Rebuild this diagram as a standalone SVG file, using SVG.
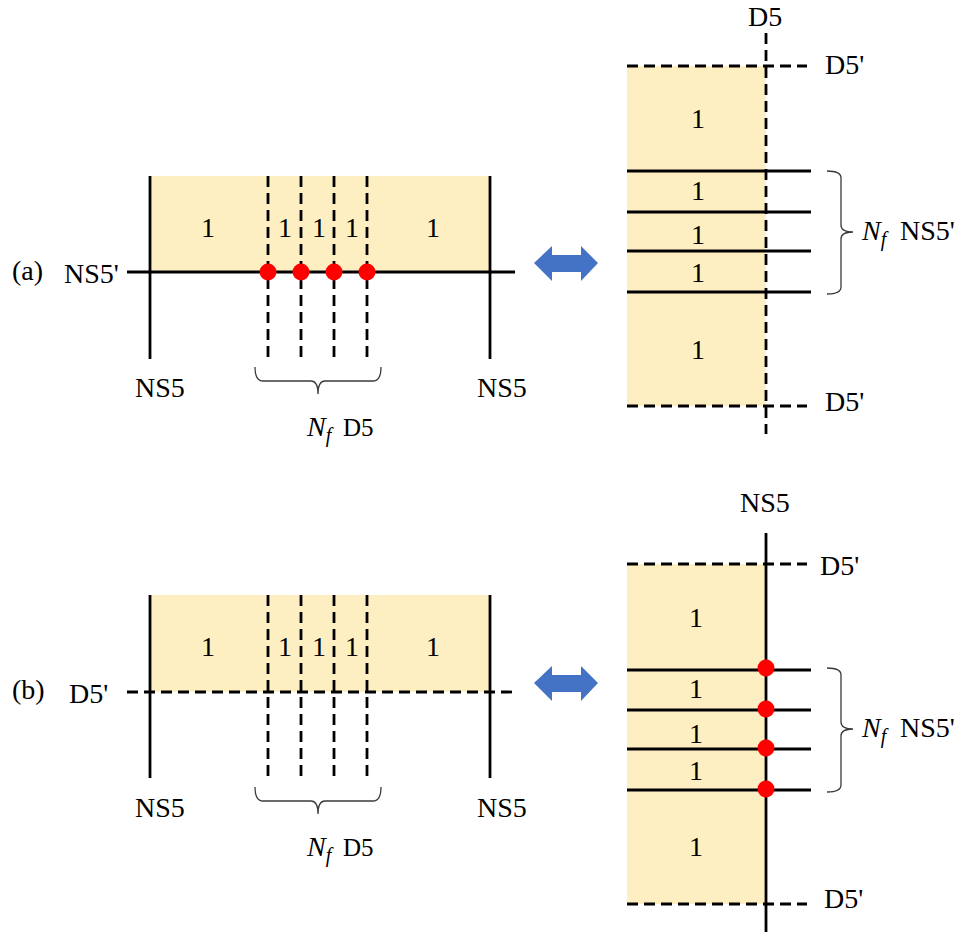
<svg xmlns="http://www.w3.org/2000/svg" width="966" height="938" viewBox="0 0 966 938">
<style>
text{font-family:"Liberation Serif","Times New Roman","DejaVu Serif",serif;font-size:28px;fill:#000}
.c{text-anchor:middle}
.fill{fill:#FEEFC3;stroke:none}
.solid{stroke:#000;stroke-width:2.8;fill:none}
.dash{stroke:#000;stroke-width:2.8;fill:none;stroke-dasharray:11 6}
.dot{fill:#FF0000}
.brace{stroke:#3a3a3a;stroke-width:1.3;fill:none}
.arrow{fill:#4472C4}
.it{font-style:italic;font-family:"Liberation Serif","Times New Roman",serif}
</style>
<rect width="966" height="938" fill="#fff"/>

<g id="panel-a-left">
  <rect class="fill" x="150" y="176" width="340" height="96"/>
  <g id="a-left-lines">
    <line class="solid" x1="150" y1="176" x2="150" y2="359"/>
    <line class="solid" x1="490" y1="176" x2="490" y2="359"/>
    <line class="solid" x1="127" y1="272" x2="515" y2="272"/>
    <line class="dash" x1="268" y1="176" x2="268" y2="358"/>
    <line class="dash" x1="301" y1="176" x2="301" y2="358"/>
    <line class="dash" x1="334" y1="176" x2="334" y2="358"/>
    <line class="dash" x1="367" y1="176" x2="367" y2="358"/>
  </g>
  <circle class="dot" cx="268" cy="272" r="8.5"/>
  <circle class="dot" cx="301" cy="272" r="8.5"/>
  <circle class="dot" cx="334" cy="272" r="8.5"/>
  <circle class="dot" cx="367" cy="272" r="8.5"/>
  <text class="c" x="208" y="237">1</text>
  <text class="c" x="285" y="237">1</text>
  <text class="c" x="319" y="237">1</text>
  <text class="c" x="352" y="237">1</text>
  <text class="c" x="433" y="237">1</text>
  <text x="12" y="280">(a)</text>
  <text x="64" y="283">NS5'</text>
  <text x="135" y="397">NS5</text>
  <text x="477" y="397">NS5</text>
  <path class="brace" d="M255,367 Q255,381 263,381 L311,381 Q318,381 318,394 Q318,381 325,381 L373,381 Q381,381 381,367"/>
  <text x="307" y="436"><tspan class="it">N</tspan><tspan class="it" font-size="20" dy="6">f</tspan><tspan x="343" dy="-6" font-size="25">D5</tspan></text>
</g>

<g id="arrow-a"><polygon class="arrow" points="534,263 552,246 552,255 581,255 581,246 598,263 581,281 581,272 552,272 552,281"/></g>

<g id="panel-a-right">
  <rect class="fill" x="627" y="66" width="139" height="340"/>
  <line class="dash" x1="627" y1="66" x2="807" y2="66"/>
  <line class="dash" x1="627" y1="406" x2="807" y2="406"/>
  <line class="solid" x1="627" y1="171" x2="811" y2="171"/>
  <line class="solid" x1="627" y1="212" x2="811" y2="212"/>
  <line class="solid" x1="627" y1="251" x2="811" y2="251"/>
  <line class="solid" x1="627" y1="292" x2="811" y2="292"/>
  <line class="dash" x1="766" y1="33" x2="766" y2="434"/>
  <text class="c" x="698" y="128">1</text>
  <text class="c" x="698" y="200">1</text>
  <text class="c" x="698" y="244">1</text>
  <text class="c" x="698" y="282">1</text>
  <text class="c" x="698" y="359">1</text>
  <text x="748" y="26">D5</text>
  <text x="825" y="74">D5'</text>
  <text x="825" y="411">D5'</text>
  <path class="brace" d="M827,171 Q841,171 841,178 L841,225 Q841,232 853,232 Q841,232 841,239 L841,287 Q841,294 827,294"/>
  <text x="862" y="240"><tspan class="it">N</tspan><tspan class="it" font-size="20" dy="6">f</tspan><tspan x="900" dy="-6">NS5'</tspan></text>
</g>

<g id="panel-b-left">
  <rect class="fill" x="150" y="595" width="340" height="97"/>
  <g id="b-left-lines">
    <line class="solid" x1="150" y1="595" x2="150" y2="778"/>
    <line class="solid" x1="490" y1="595" x2="490" y2="778"/>
    <line class="dash" x1="127" y1="692" x2="515" y2="692"/>
    <line class="dash" x1="268" y1="595" x2="268" y2="777"/>
    <line class="dash" x1="301" y1="595" x2="301" y2="777"/>
    <line class="dash" x1="334" y1="595" x2="334" y2="777"/>
    <line class="dash" x1="367" y1="595" x2="367" y2="777"/>
  </g>
  <text class="c" x="208" y="656">1</text>
  <text class="c" x="285" y="656">1</text>
  <text class="c" x="319" y="656">1</text>
  <text class="c" x="352" y="656">1</text>
  <text class="c" x="433" y="656">1</text>
  <text x="12" y="699">(b)</text>
  <text x="69" y="703">D5'</text>
  <text x="135" y="817">NS5</text>
  <text x="477" y="817">NS5</text>
  <path class="brace" d="M255,787 Q255,801 263,801 L311,801 Q318,801 318,814 Q318,801 325,801 L373,801 Q381,801 381,787"/>
  <text x="307" y="856"><tspan class="it">N</tspan><tspan class="it" font-size="20" dy="6">f</tspan><tspan x="343" dy="-6" font-size="25">D5</tspan></text>
</g>

<g id="arrow-b"><polygon class="arrow" points="534,683 552,666 552,675 581,675 581,666 598,683 581,701 581,692 552,692 552,701"/></g>

<g id="panel-b-right">
  <rect class="fill" x="627" y="564" width="139" height="340"/>
  <line class="dash" x1="627" y1="564" x2="807" y2="564"/>
  <line class="dash" x1="627" y1="904" x2="807" y2="904"/>
  <line class="solid" x1="627" y1="670" x2="811" y2="670"/>
  <line class="solid" x1="627" y1="710" x2="811" y2="710"/>
  <line class="solid" x1="627" y1="749" x2="811" y2="749"/>
  <line class="solid" x1="627" y1="790" x2="811" y2="790"/>
  <line class="solid" x1="766" y1="533" x2="766" y2="932"/>
  <circle class="dot" cx="766" cy="668" r="8.5"/>
  <circle class="dot" cx="766" cy="709" r="8.5"/>
  <circle class="dot" cx="766" cy="748" r="8.5"/>
  <circle class="dot" cx="766" cy="789" r="8.5"/>
  <text class="c" x="696" y="627">1</text>
  <text class="c" x="696" y="698">1</text>
  <text class="c" x="696" y="743">1</text>
  <text class="c" x="696" y="780">1</text>
  <text class="c" x="696" y="856">1</text>
  <text x="740" y="512">NS5</text>
  <text x="820" y="575">D5'</text>
  <text x="824" y="908">D5'</text>
  <path class="brace" d="M827,668 Q841,668 841,675 L841,722 Q841,729 853,729 Q841,729 841,736 L841,785 Q841,792 827,792"/>
  <text x="862" y="737"><tspan class="it">N</tspan><tspan class="it" font-size="20" dy="6">f</tspan><tspan x="900" dy="-6">NS5'</tspan></text>
</g>
</svg>
